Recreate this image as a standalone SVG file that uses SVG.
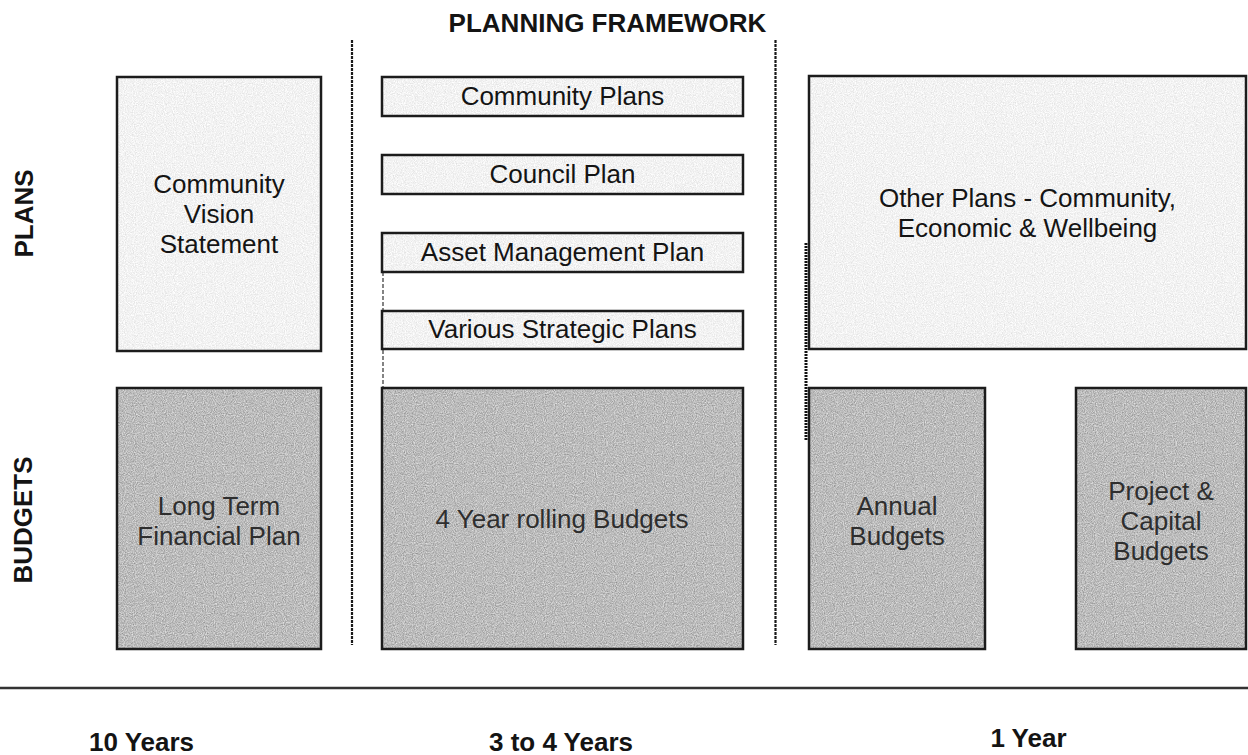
<svg xmlns="http://www.w3.org/2000/svg" width="1248" height="755" viewBox="0 0 1248 755">
  <defs>
    <!-- speckled fills for the plan (light) and budget (dark) boxes -->
    <filter id="grainLight" x="0" y="0" width="1" height="1" color-interpolation-filters="sRGB">
      <feTurbulence type="fractalNoise" baseFrequency="0.9" numOctaves="2" seed="4" result="n"/>
      <feColorMatrix in="n" type="matrix" values="0.2 0 0 0 0.85  0.2 0 0 0 0.85  0.2 0 0 0 0.85  0 0 0 0 1" result="g"/>
      <feComposite in="g" in2="SourceGraphic" operator="in"/>
    </filter>
    <filter id="grainDark" x="0" y="0" width="1" height="1" color-interpolation-filters="sRGB">
      <feTurbulence type="fractalNoise" baseFrequency="0.9" numOctaves="2" seed="9" result="n"/>
      <feColorMatrix in="n" type="matrix" values="0.45 0 0 0 0.51  0.45 0 0 0 0.51  0.45 0 0 0 0.51  0 0 0 0 1" result="g"/>
      <feComposite in="g" in2="SourceGraphic" operator="in"/>
    </filter>
  </defs>
  <style>
    .light { fill: #f2f2f2; filter: url(#grainLight); }
    .dark { fill: #bababa; filter: url(#grainDark); }
    .frame { fill: none; stroke: #1c1c1c; stroke-width: 2.5; }
    .txt { font-family: "Liberation Sans", Arial, sans-serif; font-size: 26px; text-anchor: middle; fill: #141414; }
    .txt.dim { fill: #2e2e2e; }
    .head { font-family: "Liberation Sans", Arial, sans-serif; font-size: 26px; font-weight: bold; text-anchor: middle; fill: #141414; }
    .divider { fill: none; stroke: #1a1a1a; stroke-width: 2.2; stroke-dasharray: 3 1; }
    .tick { fill: none; stroke: #111; stroke-width: 3; stroke-dasharray: 2 1; }
    .thin { fill: none; stroke: #333; stroke-width: 1.2; stroke-dasharray: 4 2; }
    .axis { fill: none; stroke: #333; stroke-width: 2.5; }
  </style>

  <rect width="1248" height="755" fill="#ffffff"/>

  <!-- headings and row / column labels -->
  <g id="labels">
    <text class="head" x="607.5" y="32">PLANNING FRAMEWORK</text>
    <text class="head" transform="translate(33,213.5) rotate(-90)">PLANS</text>
    <text class="head" transform="translate(32,520) rotate(-90)">BUDGETS</text>
    <text class="head" x="141.5" y="751">10 Years</text>
    <text class="head" x="561" y="751">3 to 4 Years</text>
    <text class="head" x="1028.5" y="747">1 Year</text>
  </g>

  <!-- dividers and timeline -->
  <g id="connectors">
    <line class="divider" x1="352" y1="40" x2="352" y2="645"/>
    <line class="divider" x1="775.5" y1="40" x2="775.5" y2="645"/>
    <line class="tick" x1="806" y1="243" x2="806" y2="441"/>
    <line class="thin" x1="383" y1="272" x2="383" y2="388"/>
    <line class="axis" x1="0" y1="688" x2="1248" y2="688"/>
  </g>

  <!-- plans row -->
  <g id="community-vision">
    <rect class="light" x="117" y="77" width="204" height="274"/>
    <rect class="frame" x="117" y="77" width="204" height="274"/>
    <text class="txt" x="219" y="193">Community</text>
    <text class="txt" x="219" y="223">Vision</text>
    <text class="txt" x="219" y="253">Statement</text>
  </g>
  <g id="community-plans">
    <rect class="light" x="382" y="77" width="361" height="39"/>
    <rect class="frame" x="382" y="77" width="361" height="39"/>
    <text class="txt" x="562.5" y="105">Community Plans</text>
  </g>
  <g id="council-plan">
    <rect class="light" x="382" y="155" width="361" height="39"/>
    <rect class="frame" x="382" y="155" width="361" height="39"/>
    <text class="txt" x="562.5" y="183">Council Plan</text>
  </g>
  <g id="asset-management-plan">
    <rect class="light" x="382" y="233" width="361" height="39"/>
    <rect class="frame" x="382" y="233" width="361" height="39"/>
    <text class="txt" x="562.5" y="261">Asset Management Plan</text>
  </g>
  <g id="strategic-plans">
    <rect class="light" x="382" y="311" width="361" height="38"/>
    <rect class="frame" x="382" y="311" width="361" height="38"/>
    <text class="txt" x="562.5" y="338">Various Strategic Plans</text>
  </g>
  <g id="other-plans">
    <rect class="light" x="809" y="76" width="437" height="273"/>
    <rect class="frame" x="809" y="76" width="437" height="273"/>
    <text class="txt" x="1027.5" y="207">Other Plans - Community,</text>
    <text class="txt" x="1027.5" y="237">Economic &amp; Wellbeing</text>
  </g>

  <!-- budgets row -->
  <g id="long-term-financial-plan">
    <rect class="dark" x="117" y="388" width="204" height="261"/>
    <rect class="frame" x="117" y="388" width="204" height="261"/>
    <text class="txt dim" x="219" y="515">Long Term</text>
    <text class="txt dim" x="219" y="545">Financial Plan</text>
  </g>
  <g id="rolling-budgets">
    <rect class="dark" x="382" y="388" width="361" height="261"/>
    <rect class="frame" x="382" y="388" width="361" height="261"/>
    <text class="txt dim" x="562" y="528">4 Year rolling Budgets</text>
  </g>
  <g id="annual-budgets">
    <rect class="dark" x="809" y="388" width="176" height="261"/>
    <rect class="frame" x="809" y="388" width="176" height="261"/>
    <text class="txt dim" x="897" y="515">Annual</text>
    <text class="txt dim" x="897" y="545">Budgets</text>
  </g>
  <g id="project-capital-budgets">
    <rect class="dark" x="1076" y="388" width="170" height="261"/>
    <rect class="frame" x="1076" y="388" width="170" height="261"/>
    <text class="txt dim" x="1161" y="500">Project &amp;</text>
    <text class="txt dim" x="1161" y="530">Capital</text>
    <text class="txt dim" x="1161" y="560">Budgets</text>
  </g>
</svg>
